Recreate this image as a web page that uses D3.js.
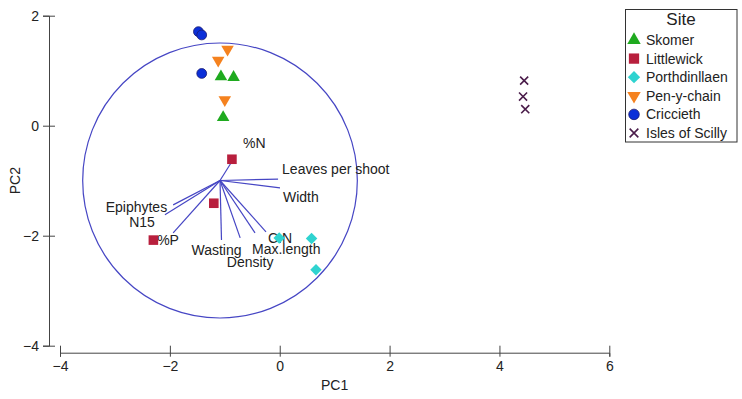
<!DOCTYPE html>
<html>
<head>
<meta charset="utf-8">
<script src="https://cdn.jsdelivr.net/npm/d3@7"></script>
<style>
  body { margin: 0; background: #fff; }
  svg text { font-family: "Liberation Sans", Arial, sans-serif; fill: #222; }
</style>
</head>
<body>
<div id="chart"></div>
<script>
// DATA
const sites = ["Skomer", "Littlewick", "Porthdinllaen", "Pen-y-chain", "Criccieth", "Isles of Scilly"]

// site scores [PC1, PC2]
const skomer = [[-1.07, 0.89], [-0.84, 0.88], [-1.03, 0.15]]
const littlewick = [[-0.87, -0.61], [-1.20, -1.41], [-2.30, -2.08]]
const porthdinllaen = [[-0.01, -2.04], [0.58, -2.05], [0.66, -2.62]]
const penychain = [[-0.95, 1.39], [-1.12, 1.19], [-1.00, 0.47]]
const criccieth = [[-1.48, 1.71], [-1.42, 1.65], [-1.42, 0.95]]
const scilly = [[4.45, 0.82], [4.43, 0.53], [4.47, 0.30]]

// variable vectors: origin and tips in PC space
const vecOrigin = [-1.087, -0.996]
const vecNames = ["%N", "Leaves per shoot", "Width", "Epiphytes", "N15", "%P", "Wasting", "Density", "Max.length", "C:N"]
const vecTips = [[-0.85, -0.62], [-0.03, -0.97], [0.005, -1.13], [-1.94, -1.44], [-2.09, -1.62],
                 [-1.94, -1.95], [-1.06, -2.08], [-0.72, -2.04], [-0.45, -1.95], [-0.25, -1.93]]
const circleRadius = 2.5

const xTicks = [-4, -2, 0, 2, 4, 6]
const yTicks = [-4, -2, 0, 2]

// label nudges (px) for the vector labels
const labelNudge = {
  "%N": [10, -17, "start"], "Leaves per shoot": [4, -10, "start"], "Width": [3, 9, "start"],
  "Epiphytes": [-6, 2, "end"], "N15": [-10, 7, "end"], "%P": [-16, 7, "start"],
  "Wasting": [-5, 10, "middle"], "Density": [10, 24, "middle"], "Max.length": [-3, 16, "start"],
  "C:N": [2, 6, "start"]
}

const width = 742, height = 399

const svg = d3.select("#chart").append("svg")
    .attr("width", width)
    .attr("height", height)

// SCALES
const xScale = d3.scaleLinear().domain([-4, 6]).range([60, 609.3])
const yScale = d3.scaleLinear().domain([-4, 2]).range([345.7, 15.7])

// AXES
const xAxis = svg.append("g")
    .attr("transform", "translate(0,352.7)")
    .call(d3.axisBottom(xScale).tickValues(xTicks).tickFormat(d3.format("d"))
        .tickSizeOuter(0).tickSize(4).tickPadding(4))
xAxis.selectAll(".tick line").attr("y1", -7).attr("y2", 4)

const yAxis = svg.append("g")
    .attr("transform", "translate(49,0)")
    .call(d3.axisLeft(yScale).tickValues(yTicks).tickFormat(d3.format("d"))
        .tickSizeOuter(0).tickSize(6).tickPadding(4))
yAxis.selectAll(".tick line").attr("x1", -6).attr("x2", 6)

svg.selectAll(".domain, .tick line").attr("stroke", "#444")
svg.selectAll(".tick text").attr("font-size", 14).attr("fill", "#222")
    .style("font-family", "'Liberation Sans', Arial, sans-serif")

svg.append("text")
    .attr("x", (xScale(-4) + xScale(6)) / 2)
    .attr("y", 385)
    .attr("dy", "0.35em")
    .attr("text-anchor", "middle")
    .attr("font-size", 14)
    .text("PC1")

svg.append("text")
    .attr("transform", `translate(15,${(yScale(-4) + yScale(2)) / 2}) rotate(-90)`)
    .attr("dy", "0.35em")
    .attr("text-anchor", "middle")
    .attr("font-size", 14)
    .text("PC2")

// CIRCLE
const lineColor = "#4646c4"
svg.append("ellipse")
    .attr("cx", xScale(vecOrigin[0]))
    .attr("cy", yScale(vecOrigin[1]))
    .attr("rx", xScale(vecOrigin[0] + circleRadius) - xScale(vecOrigin[0]))
    .attr("ry", yScale(vecOrigin[1]) - yScale(vecOrigin[1] + circleRadius))
    .attr("fill", "none")
    .attr("stroke", lineColor)
    .attr("stroke-width", 1.2)

// VECTORS
const vectors = vecNames.map((n, i) => ({ name: n, tip: vecTips[i] }))

svg.append("g").selectAll("line")
    .data(vectors)
    .join("line")
    .attr("x1", xScale(vecOrigin[0]))
    .attr("y1", yScale(vecOrigin[1]))
    .attr("x2", d => xScale(d.tip[0]))
    .attr("y2", d => yScale(d.tip[1]))
    .attr("stroke", lineColor)
    .attr("stroke-width", 1.2)

svg.append("g").selectAll("text")
    .data(vectors)
    .join("text")
    .attr("x", d => xScale(d.tip[0]) + labelNudge[d.name][0])
    .attr("y", d => yScale(d.tip[1]) + labelNudge[d.name][1])
    .attr("dy", "0.35em")
    .attr("text-anchor", d => labelNudge[d.name][2])
    .attr("font-size", 14)
    .text(d => d.name)

// POINTS
const siteStyle = {
  "Skomer":          { sym: d3.symbolTriangle, size: 68, rot: 0,   fill: "#1faa1f", stroke: "none" },
  "Littlewick":      { sym: d3.symbolSquare,   size: 92, rot: 0,   fill: "#b81f3d", stroke: "none" },
  "Porthdinllaen":   { sym: d3.symbolSquare,   size: 66, rot: 45,  fill: "#2fd3d0", stroke: "none" },
  "Pen-y-chain":     { sym: d3.symbolTriangle, size: 68, rot: 180, fill: "#f5821f", stroke: "none" },
  "Criccieth":       { sym: d3.symbolCircle,   size: 76, rot: 0,   fill: "#0b2fd8", stroke: "#1a1a70" },
  "Isles of Scilly": { sym: d3.symbolX,        size: 44, rot: 0,   fill: "none",    stroke: "#4b1d4b" }
}

const siteData = [skomer, littlewick, porthdinllaen, penychain, criccieth, scilly]
const points = []
sites.forEach((s, i) => siteData[i].forEach(p => points.push({ site: s, x: p[0], y: p[1] })))

svg.append("g").selectAll("path")
    .data(points)
    .join("path")
    .attr("d", d => d3.symbol(siteStyle[d.site].sym, siteStyle[d.site].size)())
    .attr("transform", d => `translate(${xScale(d.x)},${yScale(d.y)}) rotate(${siteStyle[d.site].rot})`)
    .attr("fill", d => siteStyle[d.site].fill)
    .attr("stroke", d => siteStyle[d.site].stroke)
    .attr("stroke-width", d => d.site === "Isles of Scilly" ? 1.6 : 0.8)

// LEGEND
const legend = svg.append("g")
legend.append("rect")
    .attr("x", 625.5).attr("y", 9.5)
    .attr("width", 111.5).attr("height", 132.5)
    .attr("fill", "#fff")
    .attr("stroke", "#333")
    .attr("stroke-width", 1)

legend.append("text")
    .attr("x", 681).attr("y", 19.5)
    .attr("dy", "0.35em")
    .attr("text-anchor", "middle")
    .attr("font-size", 17)
    .text("Site")

const rows = legend.selectAll(".row")
    .data(sites)
    .join("g")
    .attr("class", "row")
    .attr("transform", (d, i) => `translate(634,${40 + i * 18.6})`)

rows.append("path")
    .attr("d", d => d3.symbol(siteStyle[d].sym, siteStyle[d].size * 1.15)())
    .attr("transform", d => `rotate(${siteStyle[d].rot})`)
    .attr("fill", d => siteStyle[d].fill)
    .attr("stroke", d => siteStyle[d].stroke)
    .attr("stroke-width", d => d === "Isles of Scilly" ? 1.6 : 0.8)

rows.append("text")
    .attr("x", 12)
    .attr("dy", "0.35em")
    .attr("font-size", 14)
    .text(d => d)
</script>
</body>
</html>
